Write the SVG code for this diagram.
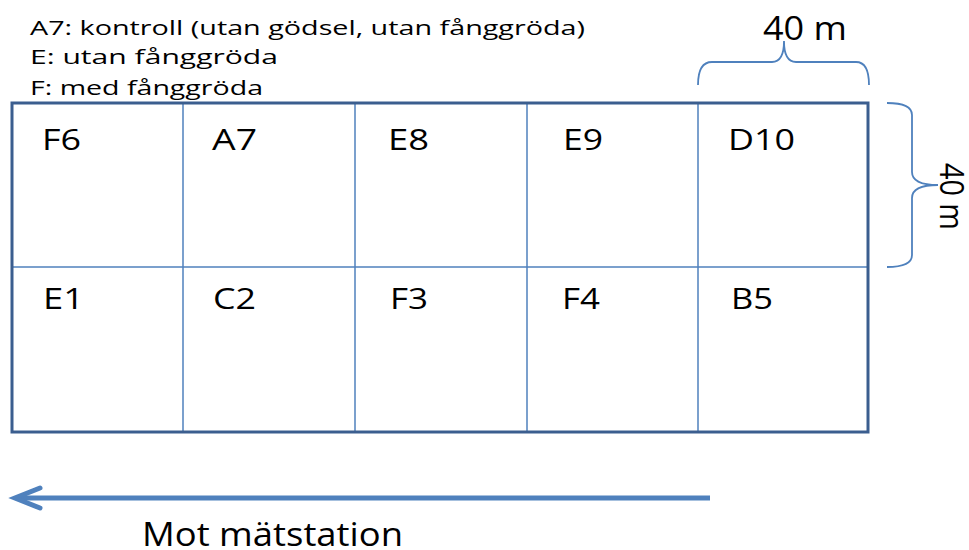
<svg xmlns="http://www.w3.org/2000/svg" width="969" height="550" viewBox="0 0 969 550">
<style>
text{font-family:"Open Sans","Liberation Sans",sans-serif;fill:#000}
.leg{font-size:20px}
.lbl{font-size:30px}
.dim{font-size:32px}
.inner{stroke:#4f81bd;stroke-width:1.5;fill:none}
.brace{stroke:#4f81bd;stroke-width:1.8;fill:none}
</style>
<rect width="969" height="550" fill="#fff"/>
<g id="legend">
<text class="leg" x="30" y="35" textLength="555" lengthAdjust="spacingAndGlyphs">A7: kontroll (utan gödsel, utan fånggröda)</text>
<text class="leg" x="30" y="64" textLength="248" lengthAdjust="spacingAndGlyphs">E: utan fånggröda</text>
<text class="leg" x="30" y="95" textLength="233" lengthAdjust="spacingAndGlyphs">F: med fånggröda</text>
</g>
<g id="grid">
<line class="inner" x1="183" y1="103" x2="183" y2="432"/>
<line class="inner" x1="355" y1="103" x2="355" y2="432"/>
<line class="inner" x1="527" y1="103" x2="527" y2="432"/>
<line class="inner" x1="698" y1="103" x2="698" y2="432"/>
<line class="inner" x1="12" y1="267" x2="868" y2="267"/>
<rect x="12" y="103" width="856" height="329" fill="none" stroke="#3b5e8f" stroke-width="3"/>
</g>
<g id="plot-F6"><text class="lbl" x="42" y="150" textLength="39" lengthAdjust="spacingAndGlyphs">F6</text></g>
<g id="plot-A7"><text class="lbl" x="212" y="150" textLength="45" lengthAdjust="spacingAndGlyphs">A7</text></g>
<g id="plot-E8"><text class="lbl" x="388" y="150" textLength="41" lengthAdjust="spacingAndGlyphs">E8</text></g>
<g id="plot-E9"><text class="lbl" x="563" y="150" textLength="40" lengthAdjust="spacingAndGlyphs">E9</text></g>
<g id="plot-D10"><text class="lbl" x="728" y="150" textLength="67" lengthAdjust="spacingAndGlyphs">D10</text></g>
<g id="plot-E1"><text class="lbl" x="43" y="309" textLength="41" lengthAdjust="spacingAndGlyphs">E1</text></g>
<g id="plot-C2"><text class="lbl" x="213" y="309" textLength="43" lengthAdjust="spacingAndGlyphs">C2</text></g>
<g id="plot-F3"><text class="lbl" x="390" y="309" textLength="38" lengthAdjust="spacingAndGlyphs">F3</text></g>
<g id="plot-F4"><text class="lbl" x="562" y="309" textLength="38" lengthAdjust="spacingAndGlyphs">F4</text></g>
<g id="plot-B5"><text class="lbl" x="731" y="309" textLength="42" lengthAdjust="spacingAndGlyphs">B5</text></g>
<g id="dim-top">
<path class="brace" d="M698,85 Q698,62 712,62 L772,62 Q784,62 784,41 Q784,62 796,62 L856,62 Q869,62 869,85"/>
<text class="dim" x="763" y="40" textLength="84" lengthAdjust="spacingAndGlyphs">40 m</text>
</g>
<g id="dim-right">
<path class="brace" d="M887,103 Q912,103 912,115 L912,172 Q912,185 938,185 Q912,185 912,198 L912,255 Q912,267 887,267"/>
<text class="dim" transform="translate(940,163) rotate(90)" textLength="67" lengthAdjust="spacingAndGlyphs">40 m</text>
</g>
<g id="connectors">
<line x1="710" y1="498" x2="16" y2="498" stroke="#4f81bd" stroke-width="5"/>
<path d="M40,488 L15,498 L40,508" fill="none" stroke="#4f81bd" stroke-width="5" stroke-linecap="round" stroke-linejoin="miter"/>
</g>
<g id="arrow-label"><text class="dim" x="142" y="546" font-size="34" textLength="261" lengthAdjust="spacingAndGlyphs">Mot mätstation</text></g>
</svg>
